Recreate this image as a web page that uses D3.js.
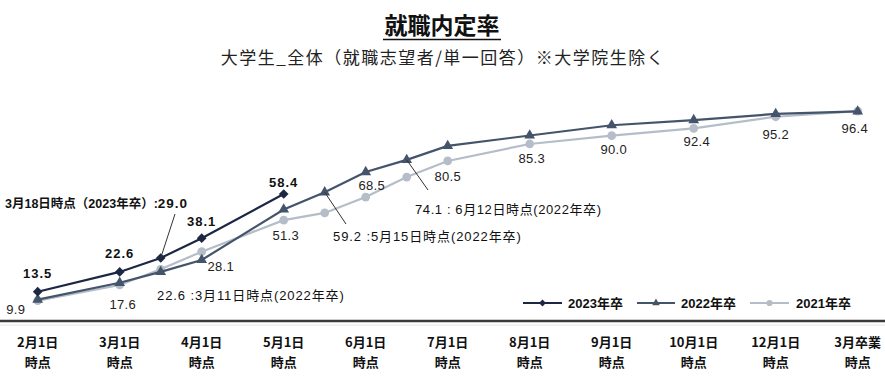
<!DOCTYPE html>
<html><head><meta charset="utf-8">
<script src="https://cdn.jsdelivr.net/npm/d3@7"></script>
<style>
body{margin:0;background:#fff;}
svg{display:block;}
text{font-family:"Liberation Sans","Noto Sans CJK JP",sans-serif;}
.jp{font-family:"Noto Sans CJK JP","Liberation Sans",sans-serif;}
</style></head>
<body><svg id="c" width="885" height="381"></svg>
<script>
// Half-month slots on the category axis
const slots = ["2月1日","","3月1日","3月中旬","4月1日","","5月1日","5月中旬","6月1日","6月中旬","7月1日","","8月1日","","9月1日","","10月1日","","12月1日","","3月卒業"];
const tickLabels = [["2月1日","時点"],["3月1日","時点"],["4月1日","時点"],["5月1日","時点"],["6月1日","時点"],["7月1日","時点"],["8月1日","時点"],["9月1日","時点"],["10月1日","時点"],["12月1日","時点"],["3月卒業","時点"]];
const tickSlots = ["2月1日","3月1日","4月1日","5月1日","6月1日","7月1日","8月1日","9月1日","10月1日","12月1日","3月卒業"];
const y2023 = [13.5,null,22.6,29.0,38.1,null,58.4,null,null,null,null,null,null,null,null,null,null,null,null,null,null];
const y2022 = [9.9,null,17.6,22.6,28.1,null,51.3,59.2,68.5,74.1,80.5,null,85.3,null,90.0,null,92.4,null,95.2,null,96.4];
const y2021 = [9.4,null,16.6,23.8,31.9,null,46.4,49.7,57.0,66.2,73.6,null,81.4,null,85.2,null,88.6,null,93.9,null,96.5];
const seriesNames = ["2023年卒","2022年卒","2021年卒"];

const svg = d3.select("#c");
const x = d3.scalePoint().domain(d3.range(slots.length)).range([37.7, 857.7]);
const y = d3.scaleLinear().domain([0,100]).range([321.1, 103.5]);

const colors = {"2023年卒":"#1c2744","2022年卒":"#44546a","2021年卒":"#b5bdc9"};

// title
svg.append("text").attr("class","jp").attr("x",442).attr("y",34).attr("text-anchor","middle")
  .attr("font-size",23).attr("font-weight","bold").attr("fill","#111").text("就職内定率");
svg.append("line").attr("x1",383).attr("x2",501).attr("y1",39.5).attr("y2",39.5).attr("stroke","#111").attr("stroke-width",1.6);
svg.append("text").attr("class","jp").attr("x",443).attr("y",64).attr("text-anchor","middle")
  .attr("font-size",17).attr("letter-spacing",1.5).attr("fill","#222").text("大学生_全体（就職志望者/単一回答）※大学院生除く");

// axis
svg.append("line").attr("x1",0).attr("x2",885).attr("y1",y(0)).attr("y2",y(0)).attr("stroke","#3a3a3a").attr("stroke-width",2.5);
svg.append("line").attr("x1",0).attr("x2",885).attr("y1",y(0)+4).attr("y2",y(0)+4).attr("stroke","#e6e6e6").attr("stroke-width",1);
const tg = svg.append("g");
tickSlots.forEach((s,i)=>{
  const xi = x(slots.indexOf(s));
  tg.append("text").attr("class","jp").attr("x",xi).attr("y",347).attr("text-anchor","middle")
    .attr("font-size",13).attr("font-weight","bold").attr("fill","#111").text(tickLabels[i][0]);
  tg.append("text").attr("class","jp").attr("x",xi).attr("y",367).attr("text-anchor","middle")
    .attr("font-size",13).attr("font-weight","bold").attr("fill","#111").text(tickLabels[i][1]);
});

function pts(arr){ return arr.map((v,i)=>({i,v})).filter(d=>d.v!==null); }
const line = d3.line().x(d=>x(d.i)).y(d=>y(d.v));

const data = {"2023年卒":y2023,"2022年卒":y2022,"2021年卒":y2021};
const symbols = {"2023年卒":d3.symbolDiamond2,"2022年卒":d3.symbolTriangle,"2021年卒":d3.symbolCircle};
const sizes = {"2023年卒":60,"2022年卒":50,"2021年卒":60};
["2021年卒","2022年卒","2023年卒"].forEach(name=>{
  const p = pts(data[name]);
  svg.append("path").datum(p).attr("d",line).attr("fill","none").attr("stroke",colors[name]).attr("stroke-width",2.2);
  svg.append("g").selectAll("path").data(p).join("path")
    .attr("transform",d=>`translate(${x(d.i)},${y(d.v)})`)
    .attr("d",d3.symbol().type(symbols[name]).size(sizes[name]))
    .attr("fill",colors[name]);
});

// leader lines
function leader(i,v,x2,y2){
  svg.append("line").attr("x1",x(i)).attr("y1",y(v)).attr("x2",x2).attr("y2",y2).attr("stroke","#333").attr("stroke-width",1);
}
leader(3,29.0,175,214);
leader(7,59.2,346,224);
leader(9,74.1,428,190);

// value labels
const lab = svg.append("g");
function vlabel(tx,ty,t,bold){
  lab.append("text").attr("x",tx).attr("y",ty).attr("text-anchor","middle").attr("font-size",13)
   .attr("font-weight",bold?"bold":"normal").attr("letter-spacing",bold?1:0.3).attr("fill",bold?"#111":"#222").text(t);
}
const i23 = [0,2,4,6], off23 = [[0,-14],[0,-14],[0,-12],[0,-7]];
i23.forEach((i,k)=>vlabel(x(i)+off23[k][0], y(y2023[i])+off23[k][1], y2023[i].toFixed(1), true));
const i22 = [0,2,4,6,8,10,12,14,16,18,20];
const off22 = [[-22,14],[3,26],[19,11],[2,31],[6,18],[0,35],[2,28],[2,29],[3,26],[0,25],[-3,22]];
i22.forEach((i,k)=>vlabel(x(i)+off22[k][0], y(y2022[i])+off22[k][1], y2022[i].toFixed(1), false));

// annotations
function ann(tx,ty,parts){
  const t = svg.append("text").attr("x",tx).attr("y",ty).attr("fill","#111");
  parts.forEach(p=>t.append("tspan").attr("font-weight",p[1]?"bold":"normal").attr("font-size",p[2]).attr("letter-spacing",p[3]||0).text(p[0]));
}
ann(5,208,[["3月18日時点（2023年卒）:",true,12.5,0],[y2023[3].toFixed(1),true,13.5,1]]);
ann(157,300,[[y2022[3].toFixed(1)+" :3月11日時点(2022年卒)",false,13,0.9]]);
ann(333,241,[[y2022[7].toFixed(1)+" :5月15日時点(2022年卒)",false,13,0.9]]);
ann(415,214,[[y2022[9].toFixed(1)+" : 6月12日時点(2022年卒)",false,13,0.6]]);

// legend
const lg = svg.append("g");
const legX = [[523,562,568],[637,675,681],[750,789,796]];
seriesNames.forEach((n,k)=>{
  const [a,b,tx] = legX[k];
  lg.append("line").attr("x1",a).attr("x2",b).attr("y1",303).attr("y2",303).attr("stroke",colors[n]).attr("stroke-width",2.2);
  lg.append("path").attr("transform",`translate(${(a+b)/2},303)`).attr("d",d3.symbol().type(symbols[n]).size(sizes[n]*0.5)).attr("fill",colors[n]);
  lg.append("text").attr("x",tx).attr("y",308).attr("font-size",13).attr("font-weight","bold").attr("fill","#111").text(n);
});
</script></body></html>
